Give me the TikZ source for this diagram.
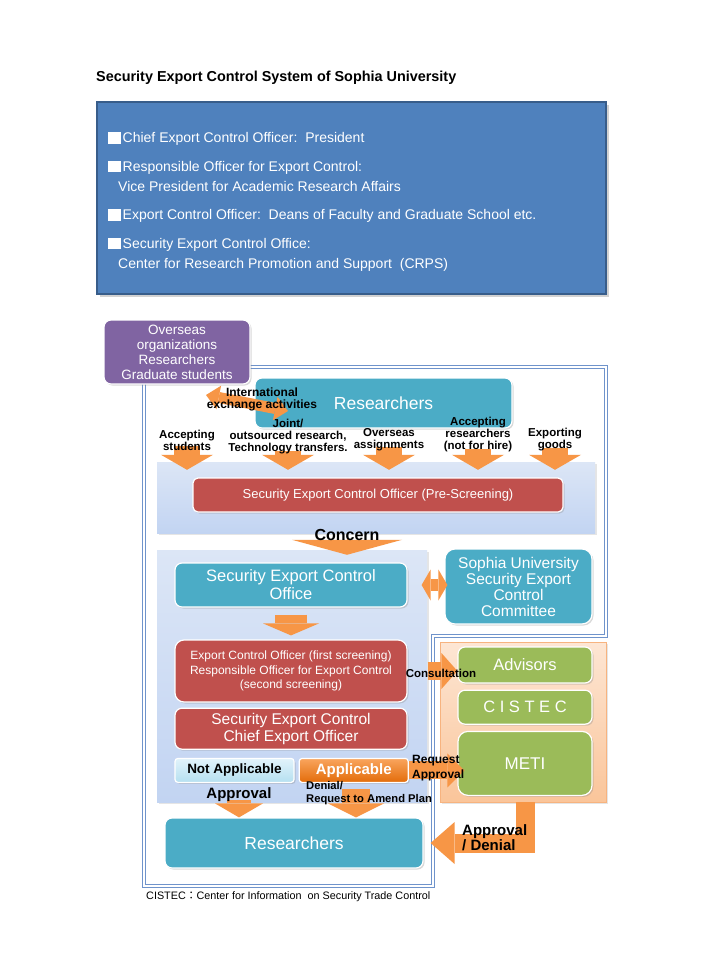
\documentclass[tikz,border=0pt]{standalone}
\usepackage{fontspec}
\setmainfont{Liberation Sans}
\newfontfamily\cjk{Noto Sans CJK JP}
\usetikzlibrary{arrows.meta, positioning, shadows}

\definecolor{cteal}{HTML}{4BACC6}
\definecolor{cred}{HTML}{C0504D}
\definecolor{cgreen}{HTML}{9BBB59}
\definecolor{cpurple}{HTML}{8064A2}
\definecolor{corange}{HTML}{F79646}
\definecolor{hdrblue}{HTML}{4F81BD}
\definecolor{hdrline}{HTML}{385D8A}
\definecolor{cframe}{HTML}{6F93CB}
\definecolor{panetop}{HTML}{DCE6F6}
\definecolor{panebot}{HTML}{C2D4F2}
\definecolor{peachtop}{HTML}{FDE6D4}
\definecolor{peachbot}{HTML}{FAC59A}
\definecolor{peachline}{HTML}{F7B37F}
\definecolor{nattop}{HTML}{E2F3FB}
\definecolor{natbot}{HTML}{B5E0F0}
\definecolor{apptop}{HTML}{F9A55E}
\definecolor{appbot}{HTML}{E36C0A}

\newcommand{\hdrsq}{\rule[-1pt]{13pt}{11.5pt}\hspace{1.5pt}}

\pgfdeclarelayer{boxes}
\pgfdeclarelayer{arrows}
\pgfsetlayers{boxes,arrows,main}

\begin{document}
\begin{tikzpicture}[
    x=1pt, y=-1pt,
    box/.style={rectangle, rounded corners=7pt, draw=white, line width=1.2pt, align=center, inner sep=0pt, text=white,
        drop shadow={opacity=0.3, shadow xshift=1.5pt, shadow yshift=-1.5pt}},
    tealbox/.style={box, fill=cteal},
    redbox/.style={box, fill=cred},
    greenbox/.style={box, fill=cgreen},
    panel/.style={rectangle, inner sep=0pt, top color=panetop, bottom color=panebot,
        drop shadow={opacity=0.2, shadow xshift=2pt, shadow yshift=-2pt}},
    lbl/.style={align=center, inner sep=0pt, font=\fontsize{11.5}{12}\selectfont\bfseries},
    fatarrow/.style n args={3}{draw=corange, line width=#1, -{Triangle[width=#2, length=#3, line width=0pt]}},
    twoarrow/.style n args={3}{draw=corange, line width=#1,
        {Triangle[width=#2, length=#3, line width=0pt]}-{Triangle[width=#2, length=#3, line width=0pt]}}
]

\begin{pgfonlayer}{boxes}
\fill[white] (0,0) rectangle (720,960);

% title and header
\node[anchor=west, inner sep=0pt, font=\fontsize{14.4}{16}\selectfont\bfseries] (title) at (96,78)
    {Security Export Control System of Sophia University};
\node[rectangle, fill=hdrblue, draw=hdrline, line width=2pt, minimum width=509pt, minimum height=192pt,
    drop shadow={opacity=0.35, shadow xshift=3pt, shadow yshift=-3pt}] (hdr) at (351.5,198) {};
\node[anchor=north west, inner sep=0pt, align=left, text=white, font=\fontsize{14}{20}\selectfont] (hdrtext) at (108,132) {
    \hdrsq Chief Export Control Officer:\ \ President\\[8.5pt]
    \hdrsq Responsible Officer\ for Export Control:\\
    \hspace*{10pt}Vice President for Academic Research Affairs\\[8.5pt]
    \hdrsq Export Control Officer:\ \ Deans of Faculty and Graduate School etc.\\[8.5pt]
    \hdrsq Security\ Export Control Office:\\
    \hspace*{10pt}Center for Research Promotion and Support\ \ (CRPS)};

% outline of the university
\draw[cframe, line width=0.9pt, double=white, double distance=1.5pt]
    (144,367) -- (606,367) -- (606,636) -- (433,636) -- (433,886) -- (144,886) -- cycle;

% boxes
\node[box, fill=cpurple, minimum width=146pt, minimum height=64pt, font=\fontsize{13.5}{15}\selectfont] (overseas)
    at (177,352) {Overseas\\organizations\\Researchers\\Graduate students};
\node[tealbox, minimum width=257pt, minimum height=50pt, font=\fontsize{17.5}{19}\selectfont] (resA)
    at (383.5,403) {Researchers};
\node[panel, minimum width=438pt, minimum height=71pt] (panA) at (376,497.5) {};
\node[redbox, rounded corners=5pt, minimum width=370pt, minimum height=34pt, font=\fontsize{13}{15}\selectfont] (prescreen)
    at (378,495) {Security Export Control Officer (Pre-Screening)};

\node[panel, minimum width=270pt, minimum height=252pt] (panB) at (292,676) {};
\node[tealbox, minimum width=232pt, minimum height=44pt, font=\fontsize{16.5}{18}\selectfont] (office)
    at (291,585) {Security Export Control\\Office};
\node[tealbox, rounded corners=10pt, minimum width=147pt, minimum height=75pt, font=\fontsize{15.5}{16}\selectfont] (committee)
    at (518.5,586.5) {Sophia University\\Security Export\\Control\\Committee};
\node[redbox, rounded corners=9pt, minimum width=232pt, minimum height=62pt, font=\fontsize{12}{14.5}\selectfont] (screening)
    at (291,671) {Export Control Officer (first screening)\\Responsible Officer for Export Control\\(second screening)};
\node[redbox, minimum width=232pt, minimum height=41pt, font=\fontsize{15.5}{17}\selectfont, below=5pt of screening] (chief)
    {Security Export Control\\Chief Export Officer};
\node[box, rounded corners=3pt, top color=nattop, bottom color=natbot, text=black, minimum width=119pt, minimum height=24pt,
    font=\fontsize{13.5}{15}\selectfont\bfseries, below right=8pt and 0pt of chief.south west] (notapp) {Not Applicable};
\node[box, rounded corners=3pt, top color=apptop, bottom color=appbot, minimum width=109pt, minimum height=24pt,
    font=\fontsize{15}{16}\selectfont\bfseries, right=4pt of notapp] (app) {Applicable};
\node[tealbox, minimum width=258pt, minimum height=50pt, font=\fontsize{17.5}{19}\selectfont] (resB)
    at (294,843) {Researchers};

\node[rectangle, top color=peachtop, bottom color=peachbot, draw=peachline, line width=0.8pt,
    minimum width=166pt, minimum height=160pt,
    drop shadow={opacity=0.2, shadow xshift=2pt, shadow yshift=-2pt}] (advice) at (523,722) {};
\node[greenbox, minimum width=134pt, minimum height=36pt, font=\fontsize{16.5}{18}\selectfont] (advisors)
    at (525,665) {Advisors};
\node[greenbox, minimum width=134pt, minimum height=34pt, font=\fontsize{16.5}{18}\selectfont, below=6pt of advisors] (cistec)
    {C\ I\ S\ T\ E\ C};
\node[greenbox, rounded corners=10pt, minimum width=134pt, minimum height=64pt, font=\fontsize{17}{18}\selectfont, below=6pt of cistec] (meti)
    {METI};
\end{pgfonlayer}

% labels
\node[lbl] (lblstud) at (187,440) {Accepting\\students};
\node[lbl] (lbljoint) at (288,437) {Joint/\\outsourced research,\\Technology transfers.};
\node[lbl] (lblover) at (389,440) {Overseas\\assignments};
\node[lbl] (lblaccept) at (478,435) {Accepting\\researchers\\(not for hire)};
\node[lbl] (lblgoods) at (555,440) {Exporting\\goods};
\node[lbl, font=\fontsize{12}{12}\selectfont\bfseries] (ixlbl) at (262,399) {International\\exchange activities};
\node[lbl, font=\fontsize{16}{17}\selectfont\bfseries] (concern) at (347,535) {Concern};
\node[lbl] (consult) at (441,673) {Consultation};
\node[lbl, anchor=west, align=left, font=\fontsize{12}{15}\selectfont\bfseries] (reqlbl) at (412,768) {Request\\Approval};
\node[lbl, font=\fontsize{15}{16}\selectfont\bfseries] (apprlbl) at (239,795) {Approval};
\node[lbl, anchor=west, align=left, font=\fontsize{11.2}{12.5}\selectfont\bfseries] (denlbl) at (306,793)
    {Denial/\\Request to Amend Plan};
\node[lbl, anchor=west, align=left, font=\fontsize{15}{15}\selectfont\bfseries] (adlbl) at (462,838) {Approval\\/ Denial};

% footnote
\node[anchor=west, inner sep=0pt, font=\fontsize{10.8}{12}\selectfont] (note) at (146,897)
    {CISTEC{\cjk ：}Center for Information\ \ on Security Trade Control};

% arrows
\coordinate (ixl) at (206,395);
\coordinate (ixr) at (288,411);
\coordinate (dtop) at (356,789);
\begin{pgfonlayer}{arrows}
\draw[twoarrow={11pt}{24pt}{13pt}] (ixl) -- (ixr);
\foreach \n in {lblstud, lbljoint, lblover, lblaccept, lblgoods}
    \draw[fatarrow={26pt}{52pt}{15pt}] ([yshift=4pt]\n.south) -- ([yshift=-8pt]\n.south |- panA.north);
\draw[fatarrow={1pt}{110pt}{15pt}] (concern.center) -- ([yshift=-5pt]concern.center |- panB.north);
\draw[fatarrow={32pt}{56pt}{12pt}] ([yshift=-7pt]office.south) -- ([yshift=4pt]screening.north);
\draw[twoarrow={12pt}{31pt}{9pt}] ([xshift=14pt]office.east) -- ([xshift=3pt]office.east -| committee.west);
\draw[fatarrow={18pt}{36pt}{16pt}] ([xshift=20pt]screening.east) -- (screening.east -| advisors.west);
\draw[fatarrow={18pt}{34pt}{17pt}] (app.east) -- ([xshift=7pt]app.east -| meti.west);
\draw[fatarrow={24pt}{48pt}{14pt}] ([yshift=2pt]apprlbl.south) -- (apprlbl.south |- resB.north);
\draw[fatarrow={28pt}{56pt}{14pt}] (dtop) -- (dtop |- resB.north);
\draw[fatarrow={19pt}{42pt}{24pt}] (meti.south |- advice.south) |- ([xshift=7pt]resB.east);
\end{pgfonlayer}

\end{tikzpicture}
\end{document}
